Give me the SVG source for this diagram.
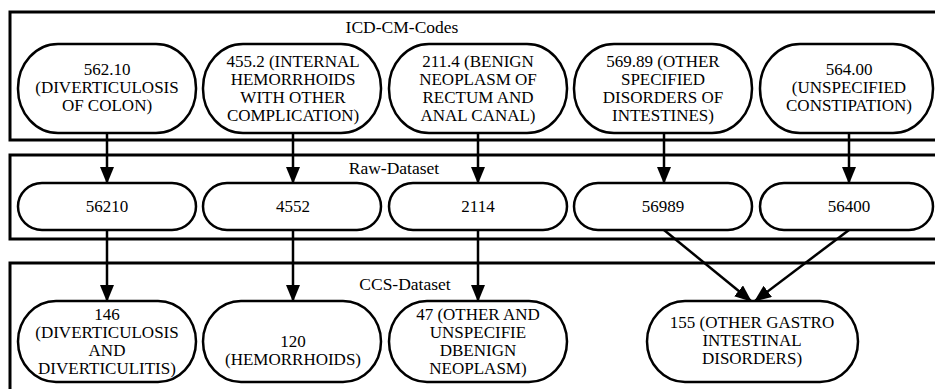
<svg xmlns="http://www.w3.org/2000/svg" width="935" height="389" viewBox="0 0 935 389">
<style>
.panel{fill:none;stroke:#000;stroke-width:3}
.bx rect{fill:#fff;stroke:#000;stroke-width:2.5}
text{font-family:"Liberation Serif","Times New Roman",serif;font-size:17px;text-anchor:middle;fill:#000}
.pl{font-size:17.5px}
.conn line{stroke:#000;stroke-width:2.5;marker-end:url(#ah)}
</style>
<defs>
<marker id="ah" markerUnits="userSpaceOnUse" markerWidth="17" markerHeight="14" refX="16" refY="7" orient="auto">
<path d="M0,0 L17,7 L0,14 z" fill="#000"/>
</marker>
</defs>
<rect width="935" height="389" fill="#fff"/>
<g id="panels">
<rect class="panel" x="10" y="12" width="940" height="128"/>
<rect class="panel" x="10" y="155" width="940" height="84"/>
<rect class="panel" x="10" y="263" width="940" height="140"/>
<text class="pl" x="402" y="33">ICD-CM-Codes</text>
<text class="pl" x="394" y="174">Raw-Dataset</text>
<text class="pl" x="405" y="290">CCS-Dataset</text>
</g>
<g id="connectors" class="conn">
<line x1="107" y1="133" x2="107" y2="183"/>
<line x1="293" y1="133" x2="293" y2="183"/>
<line x1="478" y1="133" x2="478" y2="183"/>
<line x1="664" y1="133" x2="664" y2="183"/>
<line x1="849" y1="133" x2="849" y2="183"/>
<line x1="107" y1="230" x2="107" y2="301"/>
<line x1="293" y1="230" x2="293" y2="301"/>
<line x1="478" y1="230" x2="478" y2="301"/>
<line x1="664" y1="230" x2="751" y2="301"/>
<line x1="849" y1="230" x2="755" y2="301"/>
</g>
<g id="n1" class="bx"><rect x="18" y="44" width="178" height="89" rx="40" ry="44"/><text x="107" y="75">562.10</text><text x="107" y="93">(DIVERTICULOSIS</text><text x="107" y="111">OF COLON)</text></g>
<g id="n2" class="bx"><rect x="203" y="44" width="178" height="89" rx="40" ry="44"/><text x="293" y="67">455.2 (INTERNAL</text><text x="293" y="85">HEMORRHOIDS</text><text x="293" y="103">WITH OTHER</text><text x="293" y="121">COMPLICATION)</text></g>
<g id="n3" class="bx"><rect x="389" y="44" width="178" height="89" rx="40" ry="44"/><text x="478" y="67">211.4 (BENIGN</text><text x="478" y="85">NEOPLASM OF</text><text x="478" y="103">RECTUM AND</text><text x="478" y="121">ANAL CANAL)</text></g>
<g id="n4" class="bx"><rect x="574" y="44" width="178" height="89" rx="40" ry="44"/><text x="663" y="67">569.89 (OTHER</text><text x="663" y="85">SPECIFIED</text><text x="663" y="103">DISORDERS OF</text><text x="663" y="121">INTESTINES)</text></g>
<g id="n5" class="bx"><rect x="760" y="44" width="173" height="89" rx="40" ry="44"/><text x="849" y="75">564.00</text><text x="849" y="93">(UNSPECIFIED</text><text x="849" y="111">CONSTIPATION)</text></g>
<g id="r1" class="bx"><rect x="18" y="183" width="178" height="47" rx="24" ry="23.5"/><text x="107" y="212">56210</text></g>
<g id="r2" class="bx"><rect x="203" y="183" width="178" height="47" rx="24" ry="23.5"/><text x="293" y="212">4552</text></g>
<g id="r3" class="bx"><rect x="389" y="183" width="178" height="47" rx="24" ry="23.5"/><text x="478" y="212">2114</text></g>
<g id="r4" class="bx"><rect x="574" y="183" width="178" height="47" rx="24" ry="23.5"/><text x="663" y="212">56989</text></g>
<g id="r5" class="bx"><rect x="760" y="183" width="173" height="47" rx="24" ry="23.5"/><text x="849" y="212">56400</text></g>
<g id="c1" class="bx"><rect x="18" y="301" width="178" height="81" rx="38" ry="40.5"/><text x="107" y="320">146</text><text x="107" y="338">(DIVERTICULOSIS</text><text x="107" y="356">AND</text><text x="107" y="374">DIVERTICULITIS)</text></g>
<g id="c2" class="bx"><rect x="203" y="301" width="178" height="81" rx="38" ry="40.5"/><text x="293" y="347">120</text><text x="293" y="365">(HEMORRHOIDS)</text></g>
<g id="c3" class="bx"><rect x="389" y="301" width="178" height="81" rx="38" ry="40.5"/><text x="478" y="320">47 (OTHER AND</text><text x="478" y="338">UNSPECIFIE</text><text x="478" y="356">DBENIGN</text><text x="478" y="374">NEOPLASM)</text></g>
<g id="c4" class="bx"><rect x="647" y="301" width="211" height="81" rx="38" ry="40.5"/><text x="752" y="328">155 (OTHER GASTRO</text><text x="752" y="346">INTESTINAL</text><text x="752" y="364">DISORDERS)</text></g>
</svg>
